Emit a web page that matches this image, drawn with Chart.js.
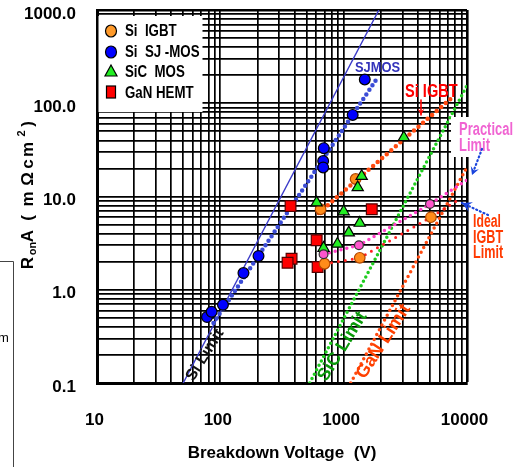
<!DOCTYPE html>
<html>
<head>
<meta charset="utf-8">
<script src="https://cdn.jsdelivr.net/npm/chart.js@4.4.1/dist/chart.umd.min.js"></script>
<style>
html,body{margin:0;padding:0;background:#fff;}
#wrap{width:525px;height:467px;position:relative;}
canvas{display:block;}
</style>
</head>
<body>
<div id="wrap"><canvas id="c" width="525" height="467"></canvas></div>
<script>
// ---------- tick labels ----------
const xTickValues = [10, 100, 1000, 10000];
const xTickLabels = ['10', '100', '1000', '10000'];
const yTickValues = [0.1, 1, 10, 100, 1000];
const yTickLabels = ['0.1', '1.0', '10.0', '100.0', '1000.0'];

// ---------- device data (Breakdown voltage V, RonA mOhm cm2) ----------
const sjmosX = [78, 85, 105, 154, 204, 690, 682, 682, 1183, 1483];
const sjmosY = [0.51, 0.58, 0.69, 1.51, 2.3, 33, 24, 20.5, 75, 180];

const igbtX = [650, 1250, 5100, 1350, 700];
const igbtY = [7.3, 15.4, 6.0, 2.2, 1.9];

const sicX = [3076, 1400, 1300, 604, 1000, 1350, 1100, 890, 687];
const sicY = [43, 16.5, 12.5, 8.6, 6.9, 5.2, 4.1, 3.1, 2.8];

const ganX = [371, 1690, 604, 378, 351, 615];
const ganY = [7.9, 7.3, 3.4, 2.15, 1.95, 1.75];

const practicalPtX = [687, 1330, 5010];
const practicalPtY = [2.4, 3.0, 8.3];

// ---------- limit / trend lines ----------
const siLimitX = [50, 1930];
const siLimitY = [0.1, 1000];
const sjTrendX = [88, 1850];
const sjTrendY = [0.44, 182];
const igbtTrendX = [627, 7690];
const igbtTrendY = [6.65, 117];
const sicLimitX = [530, 10000];
const sicLimitY = [0.1, 155];
const ganLimitX = [1140, 10000];
const ganLimitY = [0.1, 20.7];
const practicalLimitX = [687, 1330, 5010, 10000];
const practicalLimitY = [2.4, 3.0, 8.3, 15];
const idealIgbtX = [701, 1350, 5093, 8930];
const idealIgbtY = [1.89, 2.19, 6.0, 9.6];

const pts = (xs, ys) => xs.map((x, i) => ({x: x, y: ys[i]}));
function logGrid(minExp, maxExp) {
  const out = [];
  for (let e = minExp; e < maxExp; e++) {
    for (let k = 1; k <= 9; k++) out.push(Number((k * Math.pow(10, e)).toPrecision(4)));
  }
  out.push(Math.pow(10, maxExp));
  return out;
}

const FONT = '"Liberation Sans", Arial, sans-serif';

function markerSet(label, xs, ys, style, fill, border, r) {
  return {label, data: pts(xs, ys), showLine: false, pointStyle: style,
    pointRadius: r, pointBackgroundColor: fill, pointBorderColor: border, pointBorderWidth: 1.2};
}
function lineSet(label, xs, ys, color, width, dash, cap) {
  return {label, data: pts(xs, ys), showLine: true, pointRadius: 0, borderColor: color,
    borderWidth: width, borderDash: dash, borderCapStyle: cap || 'round', tension: 0, fill: false};
}

function sText(ctx, txt, x, y, size, color, sx, align) {
  ctx.save();
  ctx.font = 'bold ' + size + 'px ' + FONT;
  ctx.fillStyle = color;
  ctx.textBaseline = 'middle';
  ctx.textAlign = align || 'left';
  ctx.translate(x, y);
  ctx.scale(sx, 1);
  ctx.fillText(txt, 0, 0);
  ctx.restore();
}
function rText(ctx, txt, cx, cy, deg, size, color) {
  ctx.save();
  ctx.font = 'bold ' + size + 'px ' + FONT;
  ctx.fillStyle = color;
  ctx.textBaseline = 'middle';
  ctx.textAlign = 'center';
  ctx.translate(cx, cy);
  ctx.rotate(deg * Math.PI / 180);
  ctx.fillText(txt, 0, 0);
  ctx.restore();
}
function arrow(ctx, x1, y1, x2, y2, color, lw, dash, head) {
  ctx.save();
  ctx.strokeStyle = color; ctx.fillStyle = color;
  ctx.lineWidth = lw; ctx.lineCap = 'round';
  ctx.setLineDash(dash);
  ctx.beginPath(); ctx.moveTo(x1, y1); ctx.lineTo(x2, y2); ctx.stroke();
  ctx.setLineDash([]);
  const a = Math.atan2(y2 - y1, x2 - x1);
  ctx.beginPath();
  ctx.moveTo(x2, y2);
  ctx.lineTo(x2 - head * Math.cos(a - 0.5), y2 - head * Math.sin(a - 0.5));
  ctx.lineTo(x2 - head * 0.55 * Math.cos(a), y2 - head * 0.55 * Math.sin(a));
  ctx.lineTo(x2 - head * Math.cos(a + 0.5), y2 - head * Math.sin(a + 0.5));
  ctx.closePath(); ctx.fill();
  ctx.restore();
}

const decorPlugin = {
  id: 'decor',
  afterDraw(chart) {
    const ctx = chart.ctx;
    // left-edge artefact of the original figure
    ctx.save();
    ctx.strokeStyle = '#444'; ctx.lineWidth = 1;
    ctx.beginPath(); ctx.moveTo(0, 261.5); ctx.lineTo(13.5, 261.5); ctx.lineTo(13.5, 467); ctx.stroke();
    ctx.font = '13px ' + FONT; ctx.fillStyle = '#000'; ctx.textBaseline = 'alphabetic';
    ctx.fillText('m', -2, 342);
    ctx.restore();

    // y axis title  RonA (mΩcm2)
    ctx.save();
    ctx.fillStyle = '#000';
    ctx.translate(33, 0);
    ctx.rotate(-Math.PI / 2);
    ctx.textAlign = 'center'; ctx.textBaseline = 'alphabetic';
    const big = 'bold 17px ' + FONT, small = 'bold 11px ' + FONT;
    const glyphs = [
      ['R', 263, 0, big], ['on', 248.5, 3, small], ['A', 236, 0, big], ['(', 218, 0, big],
      ['m', 199, 0, big], ['\u03A9', 179, 0, big], ['c', 164, 0, big], ['m', 149.5, 0, big],
      ['2', 133.5, -8, small], [')', 124, 0, big]
    ];
    glyphs.forEach(g => { ctx.font = g[3]; ctx.fillText(g[0], -g[1], g[2]); });
    ctx.restore();

    // x axis title
    ctx.save();
    ctx.font = 'bold 17px ' + FONT; ctx.fillStyle = '#000';
    ctx.textAlign = 'center'; ctx.textBaseline = 'middle';
    ctx.fillText('Breakdown Voltage  (V)', 282, 453);
    ctx.restore();

    // legend
    ctx.save();
    ctx.fillStyle = '#fff';
    ctx.fillRect(98.5, 16, 104, 96);
    ctx.restore();
    const lx = 111;
    const rows = [31, 52, 72, 93];
    ctx.save();
    ctx.lineWidth = 1.2; ctx.strokeStyle = '#000';
    ctx.fillStyle = '#ff9a2a';
    ctx.beginPath(); ctx.ellipse(lx, rows[0], 5.5, 6, 0, 0, Math.PI * 2); ctx.fill(); ctx.stroke();
    ctx.fillStyle = '#0000ff';
    ctx.beginPath(); ctx.ellipse(lx, rows[1], 5.5, 6, 0, 0, Math.PI * 2); ctx.fill(); ctx.stroke();
    ctx.fillStyle = '#22ee22';
    ctx.beginPath(); ctx.moveTo(lx, rows[2] - 7); ctx.lineTo(lx + 6, rows[2] + 4); ctx.lineTo(lx - 6, rows[2] + 4); ctx.closePath(); ctx.fill(); ctx.stroke();
    ctx.fillStyle = '#ff0000';
    ctx.fillRect(lx - 4.5, rows[3] - 7, 9, 12); ctx.strokeRect(lx - 4.5, rows[3] - 7, 9, 12);
    ctx.restore();
    const legTxt = ['Si  IGBT', 'Si  SJ -MOS', 'SiC  MOS', 'GaN HEMT'];
    legTxt.forEach((t, i) => sText(ctx, t, 125, rows[i] + 1, 16, '#000', 0.83));

    // annotations
    sText(ctx, 'SJMOS', 355, 68, 15, '#3333bb', 0.86);
    sText(ctx, 'Si IGBT', 405, 92, 18, '#ff0000', 0.81);
    arrow(ctx, 421, 100, 421, 115, '#ff0000', 1.6, [], 7);

    ctx.save(); ctx.fillStyle = '#fff'; ctx.fillRect(451, 117, 74, 40); ctx.restore();
    sText(ctx, 'Practical', 459, 130, 18, '#f064d2', 0.72);
    sText(ctx, 'Limit', 459, 146, 18, '#f064d2', 0.72);
    arrow(ctx, 482, 149, 472, 175, '#1a44dd', 2.2, [1, 3], 9);

    sText(ctx, 'Ideal', 473, 222, 18, '#ff3a00', 0.68);
    sText(ctx, 'IGBT', 473, 238, 18, '#ff3a00', 0.7);
    sText(ctx, 'Limit', 473, 253, 18, '#ff3a00', 0.7);
    arrow(ctx, 488, 215, 462, 203, '#1a44dd', 2.2, [1, 3], 11);

    rText(ctx, 'Si Limit', 205, 355, -58, 16, '#111');
    rText(ctx, 'SiC Limit', 342.5, 346.5, -58.5, 18, '#0a9a0a');
    rText(ctx, 'GaN Limit', 383.5, 341.5, -57, 18, '#ff4000');
  }
};

const xGrid = logGrid(1, 4);
const yGrid = logGrid(-1, 3);

function zeroPad(s) { s.paddingTop = 0; s.paddingBottom = 0; s.paddingLeft = 0; s.paddingRight = 0; }

new Chart(document.getElementById('c'), {
  type: 'scatter',
  data: {
    datasets: [
      markerSet('Si SJ-MOS', sjmosX, sjmosY, 'circle', '#0000ff', '#000', 5.4),
      markerSet('Practical', practicalPtX, practicalPtY, 'circle', '#ff55cc', '#333', 4.4),
      markerSet('SiC MOS', sicX, sicY, 'triangle', '#22ee22', '#000', 6.5),
      markerSet('Si IGBT', igbtX, igbtY, 'circle', '#ff8c1a', '#b34700', 5.3),
      markerSet('GaN HEMT', ganX, ganY, 'rect', '#ff0000', '#550000', 7.6),
      lineSet('SJMOS trend', sjTrendX, sjTrendY, '#3b4cd6', 4.5, [0, 5.5]),
      lineSet('Si IGBT trend', igbtTrendX, igbtTrendY, '#ff4a10', 4.5, [0, 6]),
      lineSet('Practical Limit', practicalLimitX, practicalLimitY, '#ff3fc8', 3.5, [0, 6]),
      lineSet('Ideal IGBT Limit', idealIgbtX, idealIgbtY, '#ff2020', 3, [0, 7]),
      lineSet('SiC Limit', sicLimitX, sicLimitY, '#1fcc1f', 3.5, [0, 5]),
      lineSet('GaN Limit', ganLimitX, ganLimitY, '#ff4a10', 3.5, [0, 5.5]),
      lineSet('Si Limit', siLimitX, siLimitY, '#3a3ac8', 1.4, [], 'butt')
    ]
  },
  options: {
    responsive: false,
    animation: false,
    events: [],
    layout: {padding: {top: 10, right: 58, left: 0, bottom: 0}},
    plugins: {legend: {display: false}, tooltip: {enabled: false}},
    scales: {
      x: {
        type: 'logarithmic', min: 10, max: 10000,
        afterFit(s) { s.height = 84; zeroPad(s); },
        afterBuildTicks(s) { s.ticks = xGrid.map(v => ({value: v})); },
        ticks: {
          autoSkip: false, maxRotation: 0, minRotation: 0, padding: 27, labelOffset: -2.5,
          color: '#000', font: {family: FONT, size: 17, weight: 'bold'},
          callback(v) { const i = xTickValues.findIndex(t => Math.abs(t - v) < 1e-6 * t); return i >= 0 ? xTickLabels[i] : ''; }
        },
        grid: {color: '#000', drawTicks: false,
          lineWidth: c => (c.tick && c.tick.value === 10000) ? 2.6 : 1.7},
        border: {display: true, color: '#000', width: 3}
      },
      y: {
        type: 'logarithmic', min: 0.1, max: 1000,
        afterFit(s) { s.width = 97; zeroPad(s); },
        afterBuildTicks(s) { s.ticks = yGrid.map(v => ({value: v})); },
        ticks: {
          autoSkip: false, padding: 21, labelOffset: 4,
          color: '#000', font: {family: FONT, size: 17, weight: 'bold'},
          callback(v) { const i = yTickValues.findIndex(t => Math.abs(t - v) < 1e-6 * t); return i >= 0 ? yTickLabels[i] : ''; }
        },
        grid: {color: '#000', drawTicks: false,
          lineWidth: c => (c.tick && c.tick.value === 1000) ? 2.6 : 1.7},
        border: {display: true, color: '#000', width: 3}
      }
    }
  },
  plugins: [decorPlugin]
});
</script>
</body>
</html>
